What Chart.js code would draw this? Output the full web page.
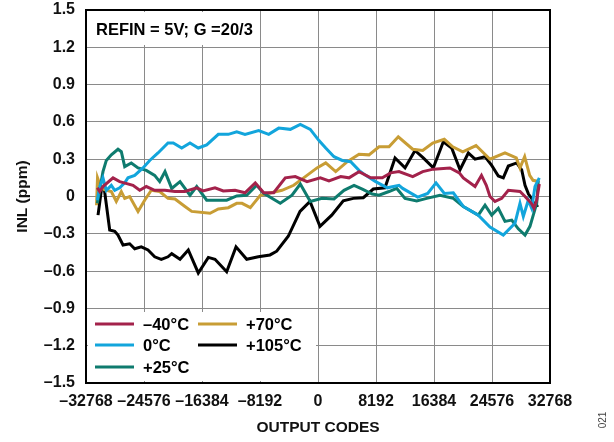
<!DOCTYPE html>
<html>
<head>
<meta charset="utf-8">
<script src="https://cdn.jsdelivr.net/npm/chart.js@4/dist/chart.umd.min.js"></script>
<style>
    html, body { margin: 0; padding: 0; background: #fff; }
    #wrap { width: 614px; height: 442px; position: relative; }
</style>
</head>
<body>
<div id="wrap"><canvas id="inlChart"></canvas></div>
<script>
// INL vs output code, five temperatures

const xTicks = [-32768, -24576, -16384, -8192, 0, 8192, 16384, 24576, 32768];
const yTicks = [-1.5, -1.2, -0.9, -0.6, -0.3, 0, 0.3, 0.6, 0.9, 1.2, 1.5];

const codesM40 = [-31170, -30830, -30370, -28950, -28010, -26130, -25180, -24250, -23070, -21610,
    -20200, -18790, -17130, -16240, -14550, -13380, -11720, -10310, -8860, -7670,
    -6260, -4620, -3210, -1550, 330, 1550, 3210, 4380, 5790, 7440,
    9080, 10270, 11440, 13380, 14790, 16290, 18640, 19960, 20520, 22180,
    23090, 23770, 24290, 25000, 25950, 26880, 28530, 29240, 30130, 30510,
    30890, 31260];
const inlM40 = [0.07, 0.04, 0.08, 0.15, 0.12, 0.09, 0.05, 0.08, 0.05, 0.05,
    0.04, 0.04, 0.07, 0.045, 0.07, 0.045, 0.05, 0.03, 0.11, 0.03,
    0.03, 0.15, 0.16, 0.12, 0.15, 0.125, 0.16, 0.15, 0.2, 0.15,
    0.15, 0.19, 0.2, 0.16, 0.2, 0.22, 0.23, 0.19, 0.15, 0.08,
    0.17, 0.09, 0.0, -0.04, -0.015, 0.05, 0.04, 0.0, -0.055, -0.095,
    -0.03, 0.1];

const codes0 = [-31170, -30830, -30370, -29900, -29190, -28710, -28010, -27300, -26840, -25890,
    -24720, -23770, -22600, -21190, -20440, -19250, -18080, -16910, -15720, -14080,
    -12670, -11480, -10310, -8380, -6960, -5550, -3910, -2500, -1090, 140,
    1090, 2260, 3430, 4620, 5790, 6740, 8150, 9790, 11440, 11960,
    14080, 15490, 16670, 17840, 19110, 20520, 22640, 24290, 26170, 27820,
    28530, 29000, 29700, 30180, 30650, 31260];
const inl0 = [-0.03, 0.08, 0.15, 0.05, 0.09, 0.05, 0.07, 0.11, 0.15, 0.17,
    0.23, 0.29, 0.35, 0.43, 0.43, 0.39, 0.43, 0.39, 0.415, 0.5,
    0.5, 0.52, 0.5, 0.53, 0.5, 0.55, 0.54, 0.58, 0.54, 0.45,
    0.39, 0.32, 0.29, 0.28, 0.21, 0.17, 0.12, 0.07, 0.09, 0.065,
    -0.005, 0.025, 0.11, 0.025, 0.03, -0.08, -0.15, -0.245, -0.31, -0.215,
    -0.055, -0.16, -0.03, -0.095, 0.08, 0.15];

const codes25 = [-31170, -30830, -30370, -29900, -29190, -28250, -27780, -27300, -26370, -25420,
    -24250, -23070, -22360, -21610, -20660, -19490, -18080, -17130, -15720, -12900,
    -11480, -10070, -8660, -7670, -5330, -3670, -2500, -1090, 570, 2260,
    3670, 5090, 6260, 7670, 8620, 10030, 11120, 12290, 13940, 15350,
    17230, 19110, 20520, 22640, 23590, 24530, 25470, 26410, 27360, 28290,
    29240, 29940, 30890, 31120];
const inl25 = [-0.055, 0.05, 0.2, 0.29, 0.335, 0.38, 0.36, 0.24, 0.27, 0.23,
    0.21, 0.17, 0.12, 0.2, 0.065, 0.12, 0.01, 0.08, -0.03, -0.03,
    0.005, 0.01, 0.09, 0.025, -0.055, 0.01, 0.1, -0.04, -0.015, -0.02,
    0.05, 0.09, 0.06, 0.02, 0.01, 0.04, 0.065, -0.015, -0.035, -0.015,
    0.01, -0.015, -0.08, -0.15, -0.07, -0.15, -0.095, -0.2, -0.19, -0.26,
    -0.31, -0.24, -0.055, 0.13];

const codes70 = [-31280, -31140, -30600, -29900, -29190, -28490, -27780, -27300, -26600, -25420,
    -24480, -23550, -22360, -21190, -20200, -18790, -17840, -15250, -14080, -12670,
    -11480, -10730, -9560, -8150, -5090, -3430, -1790, -140, 1090, 2500,
    4140, 5790, 7200, 8620, 10030, 11340, 13380, 14790, 16200, 17840,
    19030, 20440, 22320, 24290, 26410, 28010, 28530, 29190, 29900, 30370,
    31150];
const inl70 = [-0.07, 0.15, 0.065, 0.05, 0.04, -0.04, 0.04, -0.015, 0.0, -0.12,
    -0.03, 0.05, 0.04, -0.015, -0.02, -0.08, -0.12, -0.135, -0.1, -0.09,
    -0.055, -0.055, -0.09, 0.01, 0.05, 0.09, 0.16, 0.23, 0.27, 0.2,
    0.28, 0.34, 0.335, 0.4, 0.4, 0.48, 0.38, 0.37, 0.43, 0.46,
    0.4, 0.36, 0.41, 0.3, 0.35, 0.31, 0.23, 0.32, 0.17, 0.13,
    0.12];

const codes105 = [-31070, -30600, -30230, -29420, -28710, -28250, -27540, -26600, -25890, -24960,
    -24010, -23070, -22130, -21190, -20660, -19490, -18320, -16910, -15490, -14550,
    -12900, -11580, -10070, -8430, -6780, -5830, -4200, -2540, -1130, 280,
    1940, 3570, 4990, 6400, 7810, 9460, 10880, 12290, 13700, 14870,
    16290, 17700, 18880, 20060, 21230, 22180, 23590, 24530, 25470, 26170,
    26880, 28060, 28770, 29240, 29730, 30180, 30650, 31120];
const inl105 = [-0.15, 0.05, 0.08, -0.27, -0.28, -0.31, -0.39, -0.38, -0.42, -0.405,
    -0.43, -0.485, -0.505, -0.485, -0.46, -0.505, -0.43, -0.615, -0.49, -0.505,
    -0.605, -0.405, -0.505, -0.485, -0.47, -0.44, -0.32, -0.12, -0.04, -0.24,
    -0.15, -0.035, -0.015, -0.01, 0.06, 0.07, 0.31, 0.23, 0.37, 0.31,
    0.23, 0.44, 0.39, 0.215, 0.35, 0.3, 0.32, 0.25, 0.165, 0.15,
    0.245, 0.27, 0.215, 0.09, 0.02, -0.015, -0.08, -0.07];

const seriesNames = ['\u201340\u00B0C', '0\u00B0C', '+25\u00B0C', '+70\u00B0C', '+105\u00B0C'];
const seriesColors = ['#a3224b', '#12a5dc', '#0e7b6e', '#c89d35', '#000000'];

const FONT = '"Liberation Sans", Arial, Helvetica, sans-serif';

function pairs(xs, ys) {
    return xs.map((x, i) => ({ x: x, y: ys[i] }));
}

function dash(s) {
    return String(s).replace('-', '\u2013');
}

const allCodes = [codesM40, codes0, codes25, codes70, codes105];
const allInl = [inlM40, inl0, inl25, inl70, inl105];

const datasets = seriesNames.map((name, i) => ({
    label: name,
    data: pairs(allCodes[i], allInl[i]),
    borderColor: seriesColors[i],
    backgroundColor: seriesColors[i],
    borderWidth: 3,
    pointRadius: 0,
    tension: 0,
    fill: false
}));

// white boxes behind the note and the legend, then the legend itself
const overlayPlugin = {
    id: 'overlay',
    beforeDatasetsDraw(chart) {
        const ctx = chart.ctx;
        ctx.save();
        ctx.fillStyle = '#fff';
        ctx.fillRect(88, 12, 168, 33);
        ctx.fillRect(88, 312, 228, 69);
        ctx.fillStyle = '#000';
        ctx.font = 'bold 16.5px ' + FONT;
        ctx.textBaseline = 'middle';
        ctx.fillText('REFIN = 5V; G =20/3', 96, 30);
        ctx.restore();
    },
    afterDatasetsDraw(chart) {
        const ctx = chart.ctx;
        const area = chart.chartArea;
        ctx.save();
        const slots = [[95, 324], [95, 345], [95, 367], [198, 324], [198, 345]];
        ctx.font = 'bold 16.5px ' + FONT;
        ctx.textBaseline = 'middle';
        seriesNames.forEach((name, i) => {
            const [lx, ly] = slots[i];
            ctx.strokeStyle = seriesColors[i];
            ctx.lineWidth = 3;
            ctx.beginPath();
            ctx.moveTo(lx, ly);
            ctx.lineTo(lx + 39, ly);
            ctx.stroke();
            ctx.fillStyle = '#000';
            ctx.fillText(name, lx + 48, ly + 1);
        });
        // frame
        ctx.strokeStyle = '#000';
        ctx.lineWidth = 2;
        ctx.strokeRect(area.left, area.top, area.right - area.left, area.bottom - area.top);
        // figure number
        ctx.translate(603, 420);
        ctx.rotate(-Math.PI / 2);
        ctx.fillStyle = '#444';
        ctx.font = '10px ' + FONT;
        ctx.textAlign = 'center';
        ctx.textBaseline = 'middle';
        ctx.fillText('021', 0, 0);
        ctx.restore();
    }
};

new Chart(document.getElementById('inlChart'), {
    type: 'line',
    data: { datasets: datasets },
    options: {
        responsive: true,
        maintainAspectRatio: false,
        animation: false,
        layout: { padding: { left: 0, right: 64, top: 10, bottom: 0 } },
        plugins: {
            legend: { display: false },
            tooltip: { enabled: false }
        },
        scales: {
            x: {
                type: 'linear',
                min: xTicks[0],
                max: xTicks[xTicks.length - 1],
                afterFit: (scale) => {
                    scale.height = 59;
                    scale.paddingLeft = 0;
                    scale.paddingRight = 0;
                },
                afterBuildTicks: (scale) => { scale.ticks = xTicks.map(v => ({ value: v })); },
                ticks: {
                    padding: 9,
                    color: '#111',
                    font: { family: FONT, size: 16, weight: 'bold' },
                    maxRotation: 0,
                    autoSkip: false,
                    callback: (v) => dash(v)
                },
                grid: { color: '#8a8a8a', lineWidth: 1, drawTicks: false },
                border: { color: '#000', width: 2 },
                title: {
                    display: true,
                    text: 'OUTPUT CODES',
                    color: '#111',
                    font: { family: FONT, size: 15.5, weight: 'bold' },
                    padding: { top: 0, bottom: 5 }
                }
            },
            y: {
                min: yTicks[0],
                max: yTicks[yTicks.length - 1],
                afterFit: (scale) => {
                    scale.width = 86;
                    scale.paddingTop = 0;
                    scale.paddingBottom = 0;
                },
                afterBuildTicks: (scale) => { scale.ticks = yTicks.map(v => ({ value: v })); },
                ticks: {
                    padding: 11,
                    color: '#111',
                    font: { family: FONT, size: 16, weight: 'bold' },
                    autoSkip: false,
                    callback: (v) => Math.abs(v) < 1e-9 ? '0' : dash(v.toFixed(1))
                },
                grid: { color: '#8a8a8a', lineWidth: 1, drawTicks: false },
                border: { color: '#000', width: 2 },
                title: {
                    display: true,
                    text: 'INL (ppm)',
                    color: '#111',
                    font: { family: FONT, size: 15.5, weight: 'bold' },
                    padding: { top: 13, bottom: 0 }
                }
            }
        }
    },
    plugins: [overlayPlugin]
});
</script>
</body>
</html>
